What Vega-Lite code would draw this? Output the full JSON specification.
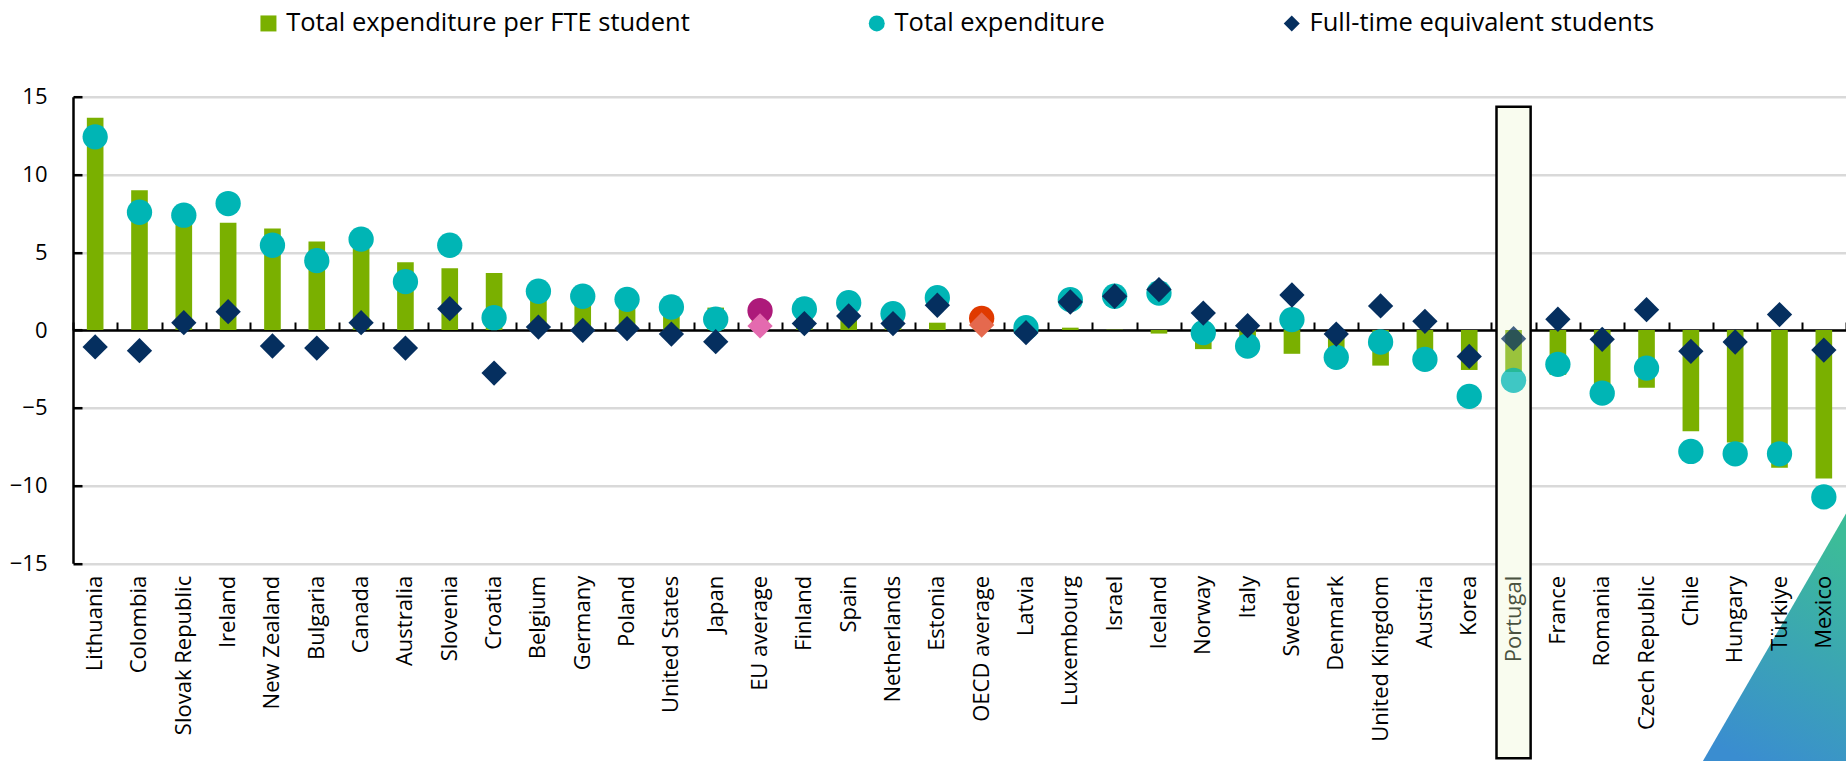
{
  "$schema": "https://vega.github.io/schema/vega-lite/v6.json",
  "width": 1773,
  "height": 466.6,
  "autosize": "none",
  "padding": {"left": 73, "top": 96.7, "right": 0, "bottom": 197.7},
  "background": "white",
  "config": {"view": {"stroke": null}, "font": "Open Sans"},
  "data": {"values": [
    {"country": "Lithuania", "perStudent": 13.65, "total": 12.42, "fte": -1.09},
    {"country": "Colombia", "perStudent": 8.99, "total": 7.57, "fte": -1.33},
    {"country": "Slovak Republic", "perStudent": 6.88, "total": 7.38, "fte": 0.47},
    {"country": "Ireland", "perStudent": 6.89, "total": 8.13, "fte": 1.18},
    {"country": "New Zealand", "perStudent": 6.52, "total": 5.45, "fte": -1.03},
    {"country": "Bulgaria", "perStudent": 5.69, "total": 4.46, "fte": -1.16},
    {"country": "Canada", "perStudent": 5.34, "total": 5.84, "fte": 0.47},
    {"country": "Australia", "perStudent": 4.36, "total": 3.11, "fte": -1.16},
    {"country": "Slovenia", "perStudent": 3.97, "total": 5.45, "fte": 1.37},
    {"country": "Croatia", "perStudent": 3.67, "total": 0.79, "fte": -2.77},
    {"country": "Belgium", "perStudent": 2.30, "total": 2.49, "fte": 0.19},
    {"country": "Germany", "perStudent": 2.19, "total": 2.17, "fte": -0.02},
    {"country": "Poland", "perStudent": 1.88, "total": 1.97, "fte": 0.09},
    {"country": "United States", "perStudent": 1.74, "total": 1.48, "fte": -0.26},
    {"country": "Japan", "perStudent": 1.44, "total": 0.69, "fte": -0.75},
    {"country": "EU average", "perStudent": 0.98, "total": 1.24, "fte": 0.26},
    {"country": "Finland", "perStudent": 0.94, "total": 1.35, "fte": 0.41},
    {"country": "Spain", "perStudent": 0.85, "total": 1.76, "fte": 0.90},
    {"country": "Netherlands", "perStudent": 0.64, "total": 1.05, "fte": 0.41},
    {"country": "Estonia", "perStudent": 0.47, "total": 2.08, "fte": 1.59},
    {"country": "OECD average", "perStudent": 0.43, "total": 0.75, "fte": 0.32},
    {"country": "Latvia", "perStudent": 0.32, "total": 0.15, "fte": -0.17},
    {"country": "Luxembourg", "perStudent": 0.15, "total": 1.95, "fte": 1.80},
    {"country": "Israel", "perStudent": 0.02, "total": 2.17, "fte": 2.17},
    {"country": "Iceland", "perStudent": -0.23, "total": 2.38, "fte": 2.60},
    {"country": "Norway", "perStudent": -1.23, "total": -0.17, "fte": 1.09},
    {"country": "Italy", "perStudent": -1.31, "total": -1.03, "fte": 0.28},
    {"country": "Sweden", "perStudent": -1.53, "total": 0.67, "fte": 2.25},
    {"country": "Denmark", "perStudent": -1.50, "total": -1.76, "fte": -0.26},
    {"country": "United Kingdom", "perStudent": -2.29, "total": -0.77, "fte": 1.55},
    {"country": "Austria", "perStudent": -2.44, "total": -1.89, "fte": 0.56},
    {"country": "Korea", "perStudent": -2.57, "total": -4.27, "fte": -1.70},
    {"country": "Portugal", "perStudent": -2.70, "total": -3.24, "fte": -0.56},
    {"country": "France", "perStudent": -2.88, "total": -2.21, "fte": 0.69},
    {"country": "Romania", "perStudent": -3.48, "total": -4.06, "fte": -0.60},
    {"country": "Czech Republic", "perStudent": -3.72, "total": -2.45, "fte": 1.31},
    {"country": "Chile", "perStudent": -6.51, "total": -7.81, "fte": -1.37},
    {"country": "Hungary", "perStudent": -7.23, "total": -7.96, "fte": -0.77},
    {"country": "Türkiye", "perStudent": -8.85, "total": -7.96, "fte": 0.99},
    {"country": "Mexico", "perStudent": -9.55, "total": -10.73, "fte": -1.29}
  ]},
  "layer": [
    {
      "layer": [
        {
          "data": {"values": [{"country": "Portugal"}]},
          "mark": {"type": "bar", "fill": "#F9FCEF", "stroke": "black", "strokeWidth": 2.5, "width": {"band": 0.77}},
          "encoding": {
            "x": {"field": "country", "type": "nominal", "sort": null,
              "scale": {"domain": ["Lithuania","Colombia","Slovak Republic","Ireland","New Zealand","Bulgaria","Canada","Australia","Slovenia","Croatia","Belgium","Germany","Poland","United States","Japan","EU average","Finland","Spain","Netherlands","Estonia","OECD average","Latvia","Luxembourg","Israel","Iceland","Norway","Italy","Sweden","Denmark","United Kingdom","Austria","Korea","Portugal","France","Romania","Czech Republic","Chile","Hungary","Türkiye","Mexico"], "paddingInner": 0, "paddingOuter": 0},
              "axis": {"orient": "top", "offset": -233.3, "labels": false, "ticks": true, "tickBand": "extent", "tickColor": "black", "tickSize": 8, "tickWidth": 2, "domain": true, "domainColor": "black", "domainWidth": 2.5, "grid": false, "title": null, "zindex": 0}},
            "y": {"datum": 14.36, "type": "quantitative", "scale": {"domain": [-15, 15], "nice": false, "zero": false},
              "axis": {"orient": "left", "values": [-15, -10, -5, 0, 5, 10, 15], "grid": true, "gridColor": "#D9D9D9", "gridWidth": 2.5, "domain": true, "domainColor": "black", "domainWidth": 2.5, "ticks": true, "tickColor": "black", "tickWidth": 2.5, "tickSize": -9, "labelFont": "Open Sans", "labelFontSize": 22, "labelColor": "black", "labelPadding": 35, "title": null, "zindex": 0}},
            "y2": {"datum": -27.54}
          }
        },
        {
          "mark": {"type": "bar", "width": {"band": 0.375}},
          "encoding": {
            "x": {"field": "country", "type": "nominal", "sort": null,
              "axis": {"orient": "bottom", "labelAngle": -90, "labelFont": "Open Sans", "labelFontSize": 22, "labelColor": {"expr": "datum.value === 'Portugal' ? '#4a5240' : 'black'"}, "labelPadding": 12, "labelLimit": 400, "ticks": false, "domain": false, "grid": false, "title": null, "zindex": 1}},
            "y": {"field": "perStudent", "type": "quantitative", "axis": null},
            "fill": {"datum": "Total expenditure per FTE student", "type": "nominal", "scale": {"range": ["#7AB000"]},
              "legend": {"orient": "none", "legendX": 182.7, "legendY": -86, "title": null, "symbolType": "square", "symbolSize": 256, "symbolOpacity": 1, "symbolStrokeWidth": 0, "labelFont": "Open Sans", "labelFontSize": 25.5, "labelColor": "black", "labelOffset": 5, "padding": 0, "labelLimit": 600}},
            "opacity": {"condition": {"test": "datum.country === 'Portugal'", "value": 0.75}, "value": 1}
          }
        },
        {
          "mark": {"type": "point", "shape": "circle", "filled": true, "size": 640, "strokeWidth": 0},
          "encoding": {
            "x": {"field": "country", "type": "nominal", "sort": null, "axis": null},
            "y": {"field": "total", "type": "quantitative", "axis": null},
            "fill": {"condition": [{"test": "datum.country === 'EU average'", "value": "#AD1A7A"}, {"test": "datum.country === 'OECD average'", "value": "#E03A00"}],
              "datum": "Total expenditure", "type": "nominal", "scale": {"range": ["#00B5B5"]},
              "legend": {"orient": "none", "legendX": 791, "legendY": -86, "title": null, "symbolType": "circle", "symbolSize": 256, "symbolOpacity": 1, "symbolStrokeWidth": 0, "labelFont": "Open Sans", "labelFontSize": 25.5, "labelColor": "black", "labelOffset": 5, "padding": 0, "labelLimit": 600}},
            "opacity": {"condition": {"test": "datum.country === 'Portugal'", "value": 0.75}, "value": 1}
          }
        },
        {
          "mark": {"type": "point", "shape": "diamond", "filled": true, "size": 640, "strokeWidth": 0},
          "encoding": {
            "x": {"field": "country", "type": "nominal", "sort": null, "axis": null},
            "y": {"field": "fte", "type": "quantitative", "axis": null},
            "fill": {"condition": [{"test": "datum.country === 'EU average'", "value": "#E46AAF"}, {"test": "datum.country === 'OECD average'", "value": "#E5694E"}],
              "datum": "Full-time equivalent students", "type": "nominal", "scale": {"range": ["#052F5F"]},
              "legend": {"orient": "none", "legendX": 1206, "legendY": -86, "title": null, "symbolType": "diamond", "symbolSize": 256, "symbolOpacity": 1, "symbolStrokeWidth": 0, "labelFont": "Open Sans", "labelFontSize": 25.5, "labelColor": "black", "labelOffset": 5, "padding": 0, "labelLimit": 600}},
            "opacity": {"condition": {"test": "datum.country === 'Portugal'", "value": 0.75}, "value": 1}
          }
        }
      ],
      "resolve": {"axis": {"x": "independent", "y": "independent"}, "scale": {"fill": "independent"}, "legend": {"fill": "independent"}}
    },
    {
      "data": {"values": [
        {"tx": 0.9193, "ty": -27.71, "ty2": -27.71},
        {"tx": 1.0, "ty": -11.8, "ty2": -27.71}
      ]},
      "mark": {"type": "area", "orient": "vertical", "color": {"gradient": "linear", "x1": 0.6, "y1": 0, "x2": 0.3, "y2": 1, "stops": [{"offset": 0, "color": "#3CBC98"}, {"offset": 1, "color": "#3A8DD0"}]}},
      "encoding": {
        "x": {"field": "tx", "type": "quantitative", "scale": {"domain": [0, 1], "nice": false, "zero": false}, "axis": null},
        "y": {"field": "ty", "type": "quantitative", "axis": null},
        "y2": {"field": "ty2"}
      }
    }
  ],
  "resolve": {"scale": {"x": "independent"}, "axis": {"y": "independent"}}
}
